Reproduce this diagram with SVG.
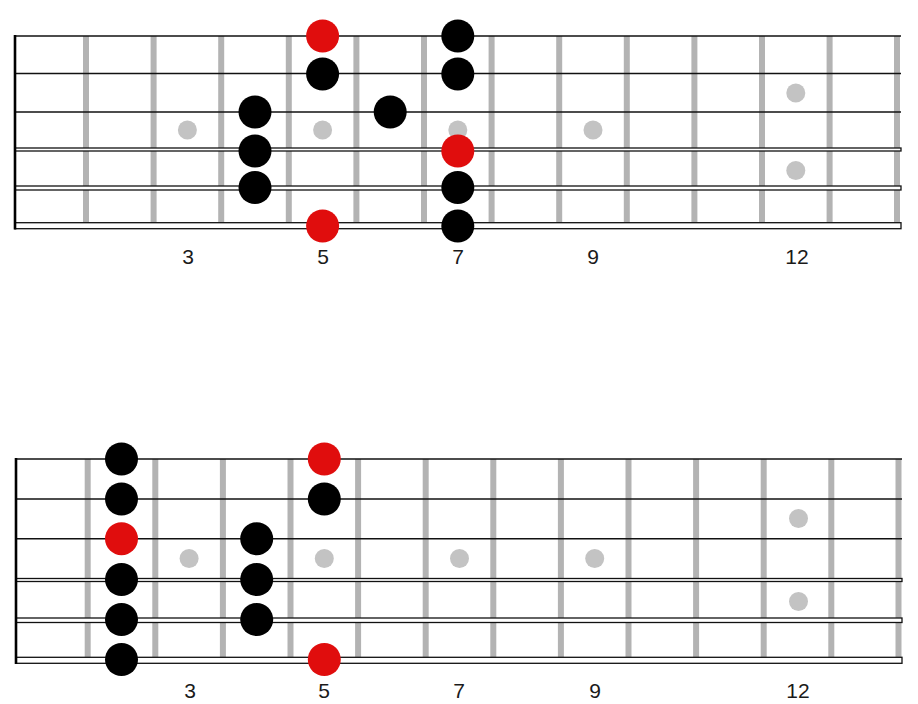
<svg xmlns="http://www.w3.org/2000/svg" width="918" height="704" viewBox="0 0 918 704">
<style>
.fret{stroke:#b3b3b3;stroke-width:6;fill:none}
.str{stroke:#111;stroke-width:1.6;fill:none}
.wound{stroke:#111;stroke-width:1.3;fill:#fff}
.nut{stroke:#000;stroke-width:2.6}
.inlay{fill:#c3c3c3}
.note{fill:#000}
.root{fill:#e00d0d}
.lbl{font-family:"Liberation Sans",Arial,sans-serif;font-size:21px;fill:#1a1a1a;text-anchor:middle}
</style>
<rect width="918" height="704" fill="#fff"/>
<g id="top-diagram">
  <g id="top-frets">
    <line class="fret" x1="86" y1="36" x2="86" y2="222"/>
    <line class="fret" x1="153.6" y1="36" x2="153.6" y2="222"/>
    <line class="fret" x1="221.2" y1="36" x2="221.2" y2="222"/>
    <line class="fret" x1="288.8" y1="36" x2="288.8" y2="222"/>
    <line class="fret" x1="356.4" y1="36" x2="356.4" y2="222"/>
    <line class="fret" x1="424" y1="36" x2="424" y2="222"/>
    <line class="fret" x1="491.6" y1="36" x2="491.6" y2="222"/>
    <line class="fret" x1="559.2" y1="36" x2="559.2" y2="222"/>
    <line class="fret" x1="626.8" y1="36" x2="626.8" y2="222"/>
    <line class="fret" x1="694.4" y1="36" x2="694.4" y2="222"/>
    <line class="fret" x1="762" y1="36" x2="762" y2="222"/>
    <line class="fret" x1="829.6" y1="36" x2="829.6" y2="222"/>
    <line class="fret" x1="897" y1="36" x2="897" y2="222"/>
  </g>
  <g id="top-inlays">
    <circle class="inlay" cx="187.4" cy="130" r="9.5"/>
    <circle class="inlay" cx="322.6" cy="130" r="9.5"/>
    <circle class="inlay" cx="457.8" cy="130" r="9.5"/>
    <circle class="inlay" cx="593" cy="130" r="9.5"/>
    <circle class="inlay" cx="795.8" cy="93" r="9.5"/>
    <circle class="inlay" cx="795.8" cy="170.5" r="9.5"/>
  </g>
  <g id="top-strings">
    <line class="str" x1="15" y1="36" x2="901" y2="36"/>
    <line class="str" x1="15" y1="73.5" x2="901" y2="73.5"/>
    <line class="str" x1="15" y1="112" x2="901" y2="112"/>
    <rect class="wound" x="15" y="148" width="886" height="3"/>
    <rect class="wound" x="15" y="186" width="886" height="4"/>
    <rect class="wound" x="15" y="222.7" width="886" height="6"/>
    <line class="nut" x1="15" y1="35" x2="15" y2="229.5"/>
  </g>
  <g id="top-notes">
    <circle class="root" cx="322.6" cy="36" r="16.5"/>
    <circle class="note" cx="457.8" cy="36" r="16.5"/>
    <circle class="note" cx="322.6" cy="74" r="16.5"/>
    <circle class="note" cx="457.8" cy="74" r="16.5"/>
    <circle class="note" cx="255" cy="112" r="16.5"/>
    <circle class="note" cx="390.2" cy="112" r="16.5"/>
    <circle class="note" cx="255" cy="151" r="16.5"/>
    <circle class="root" cx="457.8" cy="151" r="16.5"/>
    <circle class="note" cx="255" cy="187.5" r="16.5"/>
    <circle class="note" cx="457.8" cy="187.5" r="16.5"/>
    <circle class="root" cx="322.6" cy="226" r="16.5"/>
    <circle class="note" cx="457.8" cy="226" r="16.5"/>
  </g>
  <g id="top-labels">
    <text class="lbl" x="188" y="263.5">3</text>
    <text class="lbl" x="323" y="263.5">5</text>
    <text class="lbl" x="458" y="263.5">7</text>
    <text class="lbl" x="593" y="263.5">9</text>
    <text class="lbl" x="797" y="263.5">12</text>
  </g>
</g>
<g id="bottom-diagram">
  <g id="bottom-frets">
    <line class="fret" x1="87.7" y1="459" x2="87.7" y2="657"/>
    <line class="fret" x1="155.3" y1="459" x2="155.3" y2="657"/>
    <line class="fret" x1="222.9" y1="459" x2="222.9" y2="657"/>
    <line class="fret" x1="290.5" y1="459" x2="290.5" y2="657"/>
    <line class="fret" x1="358.1" y1="459" x2="358.1" y2="657"/>
    <line class="fret" x1="425.7" y1="459" x2="425.7" y2="657"/>
    <line class="fret" x1="493.3" y1="459" x2="493.3" y2="657"/>
    <line class="fret" x1="560.9" y1="459" x2="560.9" y2="657"/>
    <line class="fret" x1="628.5" y1="459" x2="628.5" y2="657"/>
    <line class="fret" x1="696.1" y1="459" x2="696.1" y2="657"/>
    <line class="fret" x1="763.7" y1="459" x2="763.7" y2="657"/>
    <line class="fret" x1="831.3" y1="459" x2="831.3" y2="657"/>
    <line class="fret" x1="898.5" y1="459" x2="898.5" y2="657"/>
  </g>
  <g id="bottom-inlays">
    <circle class="inlay" cx="189.1" cy="558.5" r="9.5"/>
    <circle class="inlay" cx="324.3" cy="558.5" r="9.5"/>
    <circle class="inlay" cx="459.5" cy="558.5" r="9.5"/>
    <circle class="inlay" cx="594.7" cy="558.5" r="9.5"/>
    <circle class="inlay" cx="798.5" cy="518.5" r="9.5"/>
    <circle class="inlay" cx="798.5" cy="601.5" r="9.5"/>
  </g>
  <g id="bottom-strings">
    <line class="str" x1="16" y1="459" x2="902" y2="459"/>
    <line class="str" x1="16" y1="499" x2="902" y2="499"/>
    <line class="str" x1="16" y1="538.7" x2="902" y2="538.7"/>
    <rect class="wound" x="16" y="578.5" width="886" height="3"/>
    <rect class="wound" x="16" y="618" width="886" height="4.5"/>
    <rect class="wound" x="16" y="657.3" width="886" height="6"/>
    <line class="nut" x1="16" y1="458" x2="16" y2="664"/>
  </g>
  <g id="bottom-notes">
    <circle class="note" cx="121.5" cy="459" r="16.5"/>
    <circle class="note" cx="121.5" cy="499" r="16.5"/>
    <circle class="root" cx="121.5" cy="538.7" r="16.5"/>
    <circle class="note" cx="121.5" cy="579.5" r="16.5"/>
    <circle class="note" cx="121.5" cy="619.5" r="16.5"/>
    <circle class="note" cx="121.5" cy="659.5" r="16.5"/>
    <circle class="note" cx="256.7" cy="538.7" r="16.5"/>
    <circle class="note" cx="256.7" cy="579.5" r="16.5"/>
    <circle class="note" cx="256.7" cy="619.5" r="16.5"/>
    <circle class="root" cx="324.3" cy="459" r="16.5"/>
    <circle class="note" cx="324.3" cy="499" r="16.5"/>
    <circle class="root" cx="324.3" cy="659.5" r="16.5"/>
  </g>
  <g id="bottom-labels">
    <text class="lbl" x="190" y="697.5">3</text>
    <text class="lbl" x="324" y="697.5">5</text>
    <text class="lbl" x="459" y="697.5">7</text>
    <text class="lbl" x="595" y="697.5">9</text>
    <text class="lbl" x="798" y="697.5">12</text>
  </g>
</g>
</svg>
